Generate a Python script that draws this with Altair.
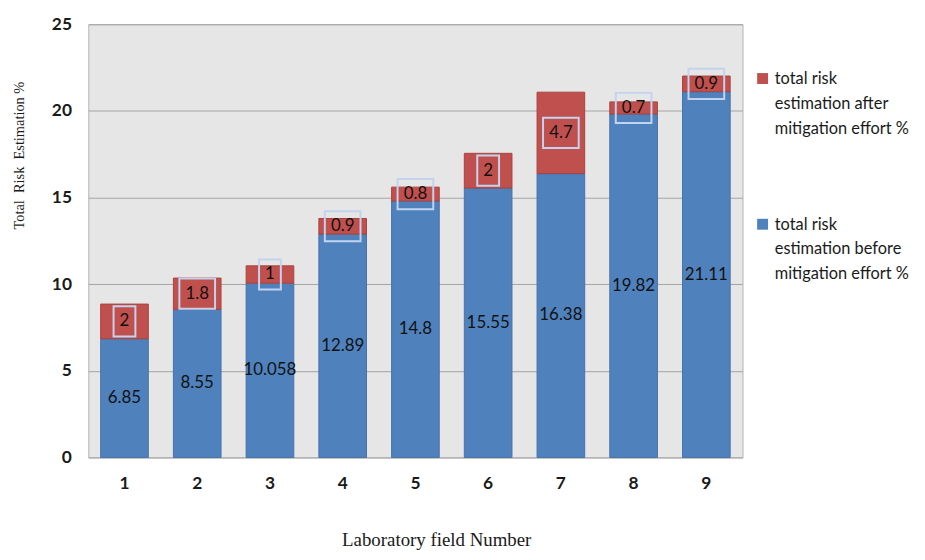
import altair as alt
import pandas as pd

fields = ["1", "2", "3", "4", "5", "6", "7", "8", "9"]
before = [6.85, 8.55, 10.058, 12.89, 14.8, 15.55, 16.38, 19.82, 21.11]
after = [2, 1.8, 1, 0.9, 0.8, 2, 4.7, 0.7, 0.9]
before_labels = ["6.85", "8.55", "10.058", "12.89", "14.8", "15.55", "16.38", "19.82", "21.11"]
after_labels = ["2", "1.8", "1", "0.9", "0.8", "2", "4.7", "0.7", "0.9"]
series_after = "total risk|estimation after|mitigation effort %"
series_before = "total risk|estimation before|mitigation effort %"

rows = []
for f, v, l in zip(fields, before, before_labels):
    rows.append({"field": f, "value": v, "label": l, "series": series_before, "ord": 0})
for f, v, l in zip(fields, after, after_labels):
    rows.append({"field": f, "value": v, "label": l, "series": series_after, "ord": 1})
df = pd.DataFrame(rows)

FONT = "Lato"

base = alt.Chart(df).transform_stack(
    stack="value", groupby=["field"], sort=[alt.SortField("ord", order="ascending")], as_=["v0", "v1"]
).transform_calculate(mid="(datum.v0 + datum.v1) / 2")

x_enc = alt.X(
    "field:O",
    sort=fields,
    scale=alt.Scale(paddingInner=0.345, paddingOuter=0.17),
    axis=alt.Axis(
        labelAngle=0, labelFont=FONT, labelFontWeight="bold", labelFontSize=17.5, labelColor="#1a1a1a",
        labelPadding=17, ticks=False, domain=False, grid=False,
        title="Laboratory field Number", titleFont="Liberation Serif", titleFontSize=19,
        titleFontWeight="normal", titleColor="#1a1a1a", titleX=351, titleY=89,
        titleAlign="center", titleBaseline="alphabetic",
    ),
)

y_scale = alt.Scale(domain=[0, 25], nice=False)

bars = base.mark_bar(strokeWidth=1).encode(
    x=x_enc,
    y=alt.Y(
        "v0:Q", scale=y_scale,
        axis=alt.Axis(
            values=[0, 5, 10, 15, 20, 25], labelFont=FONT, labelFontWeight="bold", labelFontSize=17.5,
            labelColor="#1a1a1a", labelPadding=17, ticks=False, domain=False,
            grid=True, gridColor="#a3a3a3", gridWidth=1,
            title="Total\u00a0 Risk\u00a0 Estimation %", titleFont="Liberation Serif", titleFontSize=14.5,
            titleFontWeight="normal", titleColor="#1a1a1a", titleAngle=270, titleX=-69, titleY=132,
            titleAlign="center", titleBaseline="middle",
        ),
    ),
    y2="v1:Q",
    color=alt.Color(
        "series:N",
        scale=alt.Scale(domain=[series_after, series_before], range=["#C0504D", "#4F81BD"]),
        legend=alt.Legend(
            title=None, orient="none", legendX=672, legendY=52, direction="vertical",
            symbolType="M-1,-2H1V0H-1Z", symbolSize=121, symbolStrokeWidth=0, symbolOpacity=1,
            labelFont=FONT, labelFontSize=16.5, labelColor="#1a1a1a", labelBaseline="alphabetic",
            labelExpr="split(datum.label, '|')", labelOffset=4, labelLimit=0, rowPadding=80, padding=0,
        ),
    ),
    stroke=alt.Stroke(
        "series:N",
        scale=alt.Scale(domain=[series_after, series_before], range=["#a9433f", "#4572aa"]),
        legend=None,
    ),
)

box_base = base.transform_filter("datum.ord == 1").transform_calculate(
    b0="datum.mid - 0.87", b1="datum.mid + 0.87"
)
box_enc = dict(x=x_enc, y=alt.Y("b0:Q", scale=y_scale), y2="b1:Q")
boxes_short = box_base.transform_filter("length(datum.label) == 1").mark_bar(
    width=22, fillOpacity=0, stroke="#c3d3ef", strokeWidth=2
).encode(**box_enc)
boxes_long = box_base.transform_filter("length(datum.label) > 1").mark_bar(
    width=36, fillOpacity=0, stroke="#c3d3ef", strokeWidth=2
).encode(**box_enc)

texts = base.mark_text(font=FONT, fontSize=17, color="#111111").encode(
    x=x_enc, y=alt.Y("mid:Q", scale=y_scale), text="label:N"
)

chart = alt.layer(bars, boxes_short, boxes_long, texts).properties(
    width=660, height=437,
    padding={"left": 81, "top": 14, "right": 176, "bottom": 93},
    autosize=alt.AutoSizeParams(type="none"),
    background="white",
).configure(
    style={"guide-label": {"lineHeight": 25}}
).configure_view(
    fill="#e6e6e6", stroke="#b4b4b4", strokeWidth=1
)

chart.save("out.html", embed_options={"renderer": "svg", "actions": False})
